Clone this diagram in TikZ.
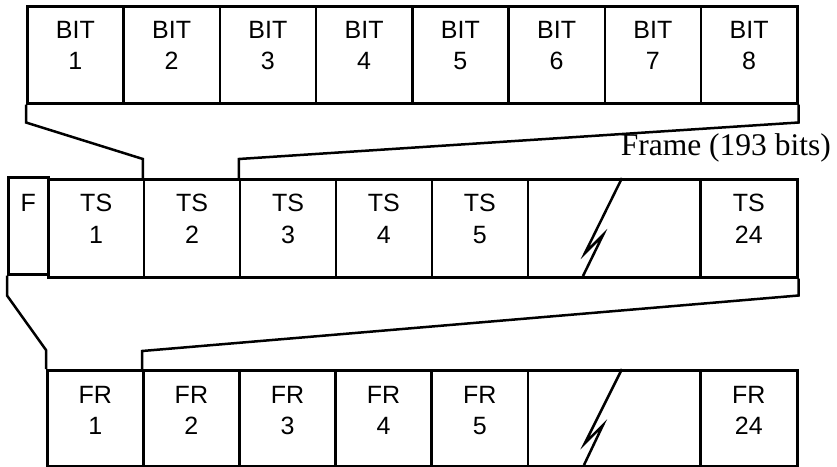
\documentclass[tikz,border=0pt]{standalone}
\usepackage{fontspec}
\setmainfont{Liberation Serif}
\newfontfamily\cellsans{Liberation Sans}
\usetikzlibrary{calc}
\begin{document}
\begin{tikzpicture}[x=1pt, y=-1pt, line width=2.5pt,
  box/.style={draw, rectangle, inner sep=0pt, anchor=north west, line width=2.5pt},
  bitcell/.style={box, minimum width=96.25pt, minimum height=97pt},
  tscell/.style={box, minimum width=95.9pt, minimum height=98pt},
  frcell/.style={box, minimum width=96.1pt, minimum height=96pt},
  celltext/.style={inner sep=0pt, anchor=north, align=center,
    font=\cellsans\fontsize{25}{31.5}\selectfont},
  frametext/.style={inner sep=0pt, font=\fontsize{31.5}{37}\selectfont},
  link/.style={draw, line width=2.5pt},
  breakmark/.style={draw, line width=2.5pt}]
  \useasboundingbox (0,0) rectangle (837,466);

  % octet of bits
  \foreach \i in {1,...,8} {
    \node[bitcell] (b\i) at ({26+(\i-1)*96.25},5) {};
    \node[celltext] (bt\i) at ([yshift=-15pt]b\i.north) {BIT\\\i};
  }

  % frame: framing bit and time slots
  \node[box, minimum width=40pt, minimum height=97pt] (fbox) at (7,176) {};
  \node[celltext] (ft) at ([yshift=-17pt]fbox.north) {F};
  \foreach \i in {1,...,5} {
    \node[tscell] (ts\i) at ({47+(\i-1)*95.9},178) {};
    \node[celltext] (tst\i) at ([yshift=-15pt]ts\i.north) {TS\\\i};
  }
  \node[tscell, minimum width=172.5pt] (tsbrk) at (526.5,178) {};
  \node[tscell, minimum width=97pt] (ts24) at (699,178) {};
  \node[celltext] (tst24) at ([yshift=-15pt]ts24.north) {TS\\24};
  \draw[breakmark] ([xshift=95.5pt]tsbrk.north west) -- ++(-37,75) -- ++(18,-18) -- ++(-20,41);

  % superframe: frames
  \foreach \i in {1,...,5} {
    \node[frcell] (fr\i) at ({46+(\i-1)*96.1},369) {};
    \node[celltext] (frt\i) at ([yshift=-16pt]fr\i.north) {FR\\\i};
  }
  \node[frcell, minimum width=172.5pt] (frbrk) at (526.5,369) {};
  \node[frcell, minimum width=97pt] (fr24) at (699,369) {};
  \node[celltext] (frt24) at ([yshift=-16pt]fr24.north) {FR\\24};
  \draw[breakmark] ([xshift=95.5pt]frbrk.north west) -- ++(-37,74) -- ++(18,-18) -- ++(-19,40);

  % expansion lines
  \draw[link] (b1.south west) -- ++(0,18) -- ([yshift=19pt]ts2.north west) -- (ts2.north west);
  \draw[link] (b8.south east) -- ++(0,18) -- ([yshift=19pt]ts3.north west) -- (ts3.north west);
  \draw[link] (fbox.south west) -- ++(0,20) -- ([yshift=19pt]fr1.north west) -- (fr1.north west);
  \draw[link] (ts24.south east) -- ++(0,17) -- ([yshift=18pt]fr2.north west) -- (fr2.north west);

  \node[frametext, anchor=base east] (frame) at (832,155) {Frame (193 bits)};
\end{tikzpicture}
\end{document}
